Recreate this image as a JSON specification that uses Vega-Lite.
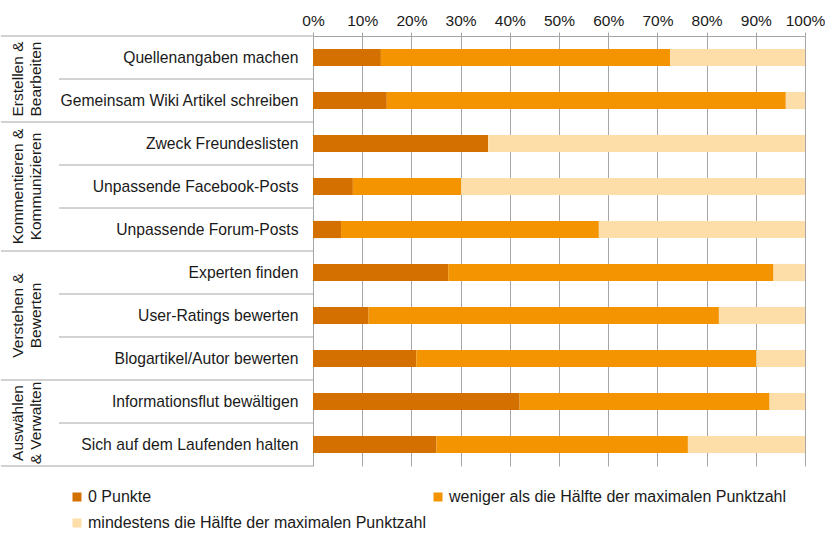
{
  "$schema": "https://vega.github.io/schema/vega-lite/v6.json",
  "background": "white",
  "padding": {"top": 13, "left": 0, "right": 0, "bottom": 0},
  "config": {
    "view": {"stroke": null},
    "font": "Liberation Sans",
    "concat": {"spacing": 0}
  },
  "datasets": {
    "rows": [
      {"item": "Quellenangaben machen", "group": "Erstellen & Bearbeiten", "first": true},
      {"item": "Gemeinsam Wiki Artikel schreiben", "group": "Erstellen & Bearbeiten", "first": false},
      {"item": "Zweck Freundeslisten", "group": "Kommentieren & Kommunizieren", "first": true},
      {"item": "Unpassende Facebook-Posts", "group": "Kommentieren & Kommunizieren", "first": false},
      {"item": "Unpassende Forum-Posts", "group": "Kommentieren & Kommunizieren", "first": false},
      {"item": "Experten finden", "group": "Verstehen & Bewerten", "first": true},
      {"item": "User-Ratings bewerten", "group": "Verstehen & Bewerten", "first": false},
      {"item": "Blogartikel/Autor bewerten", "group": "Verstehen & Bewerten", "first": false},
      {"item": "Informationsflut bewältigen", "group": "Auswählen & Verwalten", "first": true},
      {"item": "Sich auf dem Laufenden halten", "group": "Auswählen & Verwalten", "first": false, "last": true}
    ],
    "groups": [
      {"label": "Erstellen &\nBearbeiten", "anchor": "Quellenangaben machen", "n": 2},
      {"label": "Kommentieren &\nKommunizieren", "anchor": "Unpassende Facebook-Posts", "n": 3},
      {"label": "Verstehen &\nBewerten", "anchor": "User-Ratings bewerten", "n": 3},
      {"label": "Auswählen\n& Verwalten", "anchor": "Informationsflut bewältigen", "n": 2}
    ],
    "bars": [
      {"item": "Quellenangaben machen", "cat": "0 Punkte", "rank": 1, "value": 13.8},
      {"item": "Quellenangaben machen", "cat": "weniger als die Hälfte der maximalen Punktzahl", "rank": 2, "value": 58.8},
      {"item": "Quellenangaben machen", "cat": "mindestens die Hälfte der maximalen Punktzahl", "rank": 3, "value": 27.4},
      {"item": "Gemeinsam Wiki Artikel schreiben", "cat": "0 Punkte", "rank": 1, "value": 15.0},
      {"item": "Gemeinsam Wiki Artikel schreiben", "cat": "weniger als die Hälfte der maximalen Punktzahl", "rank": 2, "value": 81.1},
      {"item": "Gemeinsam Wiki Artikel schreiben", "cat": "mindestens die Hälfte der maximalen Punktzahl", "rank": 3, "value": 3.9},
      {"item": "Zweck Freundeslisten", "cat": "0 Punkte", "rank": 1, "value": 35.6},
      {"item": "Zweck Freundeslisten", "cat": "weniger als die Hälfte der maximalen Punktzahl", "rank": 2, "value": 0},
      {"item": "Zweck Freundeslisten", "cat": "mindestens die Hälfte der maximalen Punktzahl", "rank": 3, "value": 64.4},
      {"item": "Unpassende Facebook-Posts", "cat": "0 Punkte", "rank": 1, "value": 8.1},
      {"item": "Unpassende Facebook-Posts", "cat": "weniger als die Hälfte der maximalen Punktzahl", "rank": 2, "value": 22.0},
      {"item": "Unpassende Facebook-Posts", "cat": "mindestens die Hälfte der maximalen Punktzahl", "rank": 3, "value": 69.9},
      {"item": "Unpassende Forum-Posts", "cat": "0 Punkte", "rank": 1, "value": 5.7},
      {"item": "Unpassende Forum-Posts", "cat": "weniger als die Hälfte der maximalen Punktzahl", "rank": 2, "value": 52.4},
      {"item": "Unpassende Forum-Posts", "cat": "mindestens die Hälfte der maximalen Punktzahl", "rank": 3, "value": 41.9},
      {"item": "Experten finden", "cat": "0 Punkte", "rank": 1, "value": 27.5},
      {"item": "Experten finden", "cat": "weniger als die Hälfte der maximalen Punktzahl", "rank": 2, "value": 66.1},
      {"item": "Experten finden", "cat": "mindestens die Hälfte der maximalen Punktzahl", "rank": 3, "value": 6.4},
      {"item": "User-Ratings bewerten", "cat": "0 Punkte", "rank": 1, "value": 11.3},
      {"item": "User-Ratings bewerten", "cat": "weniger als die Hälfte der maximalen Punktzahl", "rank": 2, "value": 71.2},
      {"item": "User-Ratings bewerten", "cat": "mindestens die Hälfte der maximalen Punktzahl", "rank": 3, "value": 17.5},
      {"item": "Blogartikel/Autor bewerten", "cat": "0 Punkte", "rank": 1, "value": 21.0},
      {"item": "Blogartikel/Autor bewerten", "cat": "weniger als die Hälfte der maximalen Punktzahl", "rank": 2, "value": 69.1},
      {"item": "Blogartikel/Autor bewerten", "cat": "mindestens die Hälfte der maximalen Punktzahl", "rank": 3, "value": 9.9},
      {"item": "Informationsflut bewältigen", "cat": "0 Punkte", "rank": 1, "value": 42.0},
      {"item": "Informationsflut bewältigen", "cat": "weniger als die Hälfte der maximalen Punktzahl", "rank": 2, "value": 50.8},
      {"item": "Informationsflut bewältigen", "cat": "mindestens die Hälfte der maximalen Punktzahl", "rank": 3, "value": 7.2},
      {"item": "Sich auf dem Laufenden halten", "cat": "0 Punkte", "rank": 1, "value": 25.1},
      {"item": "Sich auf dem Laufenden halten", "cat": "weniger als die Hälfte der maximalen Punktzahl", "rank": 2, "value": 51.1},
      {"item": "Sich auf dem Laufenden halten", "cat": "mindestens die Hälfte der maximalen Punktzahl", "rank": 3, "value": 23.8}
    ]
  },
  "bounds": "flush",
  "hconcat": [
    {
      "width": 312,
      "height": 430,
      "data": {"name": "rows"},
      "layer": [
        {
          "transform": [{"filter": "datum.first"}],
          "mark": {"type": "rule", "color": "#a6a6a6", "strokeWidth": 1},
          "encoding": {
            "y": {"field": "item", "type": "nominal", "bandPosition": 0, "sort": null, "scale": {"domain": ["Quellenangaben machen", "Gemeinsam Wiki Artikel schreiben", "Zweck Freundeslisten", "Unpassende Facebook-Posts", "Unpassende Forum-Posts", "Experten finden", "User-Ratings bewerten", "Blogartikel/Autor bewerten", "Informationsflut bewältigen", "Sich auf dem Laufenden halten"], "paddingInner": 0, "paddingOuter": 0}, "axis": null},
            "x": {"datum": 0, "type": "quantitative", "scale": {"domain": [0, 1]}, "axis": null},
            "x2": {"datum": 1}
          }
        },
        {
          "transform": [{"filter": "!datum.first"}],
          "mark": {"type": "rule", "color": "#a6a6a6", "strokeWidth": 1},
          "encoding": {
            "y": {"field": "item", "type": "nominal", "bandPosition": 0, "sort": null, "axis": null},
            "x": {"datum": 0.186, "type": "quantitative"},
            "x2": {"datum": 1}
          }
        },
        {
          "transform": [{"filter": "datum.last"}],
          "mark": {"type": "rule", "color": "#a6a6a6", "strokeWidth": 1},
          "encoding": {
            "y": {"field": "item", "type": "nominal", "bandPosition": 1, "sort": null, "axis": null},
            "x": {"datum": 0, "type": "quantitative"},
            "x2": {"datum": 1}
          }
        },
        {
          "data": {"name": "groups"},
          "transform": [{"filter": "datum.n == 2"}],
          "mark": {"type": "text", "angle": 270, "lineBreak": "\n", "align": "center", "baseline": "middle", "fontSize": 15.5, "lineHeight": 18, "color": "#1a1a1a", "font": "Liberation Sans"},
          "encoding": {
            "y": {"field": "anchor", "type": "nominal", "bandPosition": 1, "sort": null, "axis": null},
            "x": {"datum": 0.054, "type": "quantitative"},
            "text": {"field": "label"}
          }
        },
        {
          "data": {"name": "groups"},
          "transform": [{"filter": "datum.n == 3"}],
          "mark": {"type": "text", "angle": 270, "lineBreak": "\n", "align": "center", "baseline": "middle", "fontSize": 15.5, "lineHeight": 18, "color": "#1a1a1a", "font": "Liberation Sans"},
          "encoding": {
            "y": {"field": "anchor", "type": "nominal", "bandPosition": 0.5, "sort": null, "axis": null},
            "x": {"datum": 0.054, "type": "quantitative"},
            "text": {"field": "label"}
          }
        }
      ]
    },
    {
      "width": 492,
      "height": 430,
      "data": {"name": "bars"},
      "mark": {"type": "bar", "height": {"band": 0.4}},
      "encoding": {
        "y": {
          "field": "item", "type": "nominal", "sort": null,
          "scale": {"domain": ["Quellenangaben machen", "Gemeinsam Wiki Artikel schreiben", "Zweck Freundeslisten", "Unpassende Facebook-Posts", "Unpassende Forum-Posts", "Experten finden", "User-Ratings bewerten", "Blogartikel/Autor bewerten", "Informationsflut bewältigen", "Sich auf dem Laufenden halten"], "paddingInner": 0, "paddingOuter": 0},
          "axis": {"title": null, "ticks": false, "domain": false, "labelPadding": 15, "labelFontSize": 15.7, "labelColor": "#1a1a1a", "labelFont": "Liberation Sans", "labelLimit": 400}
        },
        "x": {
          "field": "value", "type": "quantitative", "stack": "zero",
          "scale": {"domain": [0, 100], "nice": false},
          "axis": {"orient": "top", "title": null, "values": [0, 10, 20, 30, 40, 50, 60, 70, 80, 90, 100], "labelExpr": "datum.value + '%'", "grid": true, "gridColor": "#a6a6a6", "domainColor": "#a6a6a6", "tickColor": "#a6a6a6", "tickSize": 4, "labelPadding": 4, "labelFontSize": 15.5, "labelColor": "#1a1a1a", "labelFont": "Liberation Sans", "labelFlush": false}
        },
        "color": {
          "field": "cat", "type": "nominal",
          "scale": {"domain": ["0 Punkte", "weniger als die Hälfte der maximalen Punktzahl", "mindestens die Hälfte der maximalen Punktzahl"], "range": ["#d47000", "#f39400", "#fddea8"]},
          "legend": {"title": null, "orient": "none", "legendX": 68, "legendY": 453, "direction": "horizontal", "columns": 2, "symbolType": "square", "symbolSize": 81, "symbolStrokeWidth": 0, "labelFontSize": 16, "labelFont": "Liberation Sans", "labelColor": "#1a1a1a", "labelOffset": 3, "labelLimit": 500, "columnPadding": 4, "rowPadding": 10}
        },
        "order": {"field": "rank", "type": "quantitative"}
      }
    }
  ]
}
